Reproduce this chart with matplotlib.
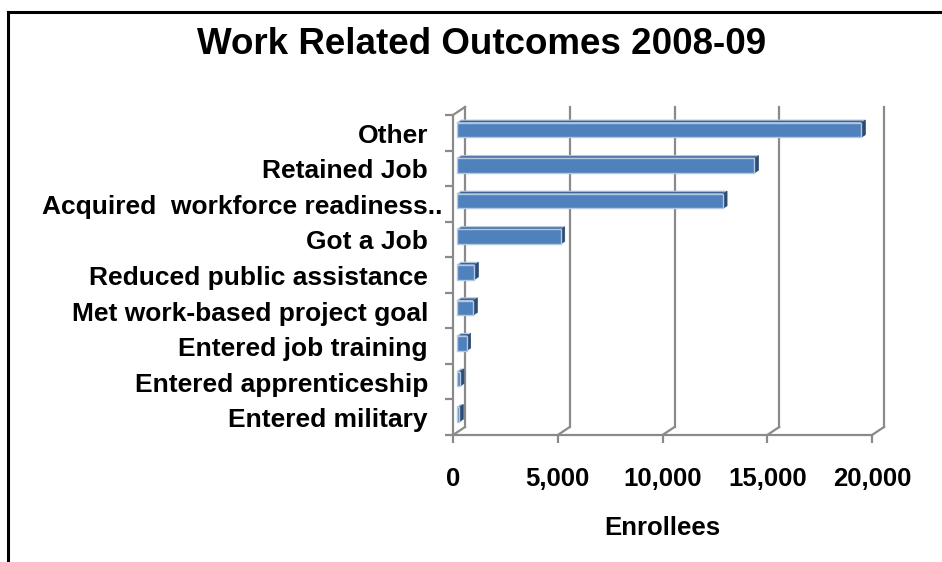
import matplotlib
matplotlib.use("Agg")
import matplotlib.pyplot as plt
from matplotlib.patches import Polygon
from matplotlib.lines import Line2D
from matplotlib.ticker import FuncFormatter, FixedLocator

# Work related outcomes, 2008-09 (number of enrollees)
categories = [
    "Other",
    "Retained Job",
    "Acquired  workforce readiness..",
    "Got a Job",
    "Reduced public assistance",
    "Met work-based project goal",
    "Entered job training",
    "Entered apprenticeship",
    "Entered military",
]
enrollees = [19300, 14200, 12700, 4950, 830, 780, 460, 140, 110]
x_ticks = [0, 5000, 10000, 15000, 20000]

title = "Work Related Outcomes 2008-09"
x_label = "Enrollees"

FONT = ["Liberation Sans", "DejaVu Sans"]
plt.rcParams["font.family"] = FONT

W, H, DPI = 942, 562, 100
fig = plt.figure(figsize=(W / DPI, H / DPI), dpi=DPI)
fig.patch.set_facecolor("white")

# front plane of the plot area, in pixels
ax_l, ax_r, ax_t, ax_b = 453, 872, 115, 435
ax = fig.add_axes([ax_l / W, 1 - ax_b / H, (ax_r - ax_l) / W, (ax_b - ax_t) / H])
ax.set_facecolor("none")

n = len(categories)
ax.set_xlim(x_ticks[0], x_ticks[-1])
ax.set_ylim(n - 0.5, -0.5)

grid_c = "#8a8a8a"
grid_lw = 1.6

# pixel -> data conversion for the pseudo-3D depth offsets
ux = (x_ticks[-1] - x_ticks[0]) / (ax_r - ax_l)
uy = n / (ax_b - ax_t)


def shift(x, y, dxp, dyp):
    return (x + dxp * ux, y - dyp * uy)


DEPTH = (12, 8)        # back wall
BAR_FRONT = (4, 2.7)   # front face of the bars
BAR_BACK = (8, 5.4)    # back face of the bars
half = 0.205

# back wall gridlines and floor diagonals
top, bot = -0.5, n - 0.5
for xv in x_ticks:
    p0 = shift(xv, top, *DEPTH)
    p1 = shift(xv, bot, *DEPTH)
    ax.add_line(Line2D([p0[0], p1[0]], [p0[1], p1[1]], color=grid_c, lw=grid_lw,
                       clip_on=False, zorder=1))
    ax.add_line(Line2D([xv, p1[0]], [bot, p1[1]], color=grid_c, lw=grid_lw,
                       clip_on=False, zorder=1))
# diagonal at top of the left wall
pt = shift(0, top, *DEPTH)
ax.add_line(Line2D([0, pt[0]], [top, pt[1]], color=grid_c, lw=grid_lw,
                   clip_on=False, zorder=1))

# bars
front_c = "#4f81bd"
top_c = "#3c6496"
side_c = "#2c4b73"
halo_c = "#b4c8e2"
for i, v in enumerate(enrollees):
    y0, y1 = i - half, i + half
    f00 = shift(0, y1, *BAR_FRONT)
    f10 = shift(v, y1, *BAR_FRONT)
    f11 = shift(v, y0, *BAR_FRONT)
    f01 = shift(0, y0, *BAR_FRONT)
    b10 = shift(v, y1, *BAR_BACK)
    b11 = shift(v, y0, *BAR_BACK)
    b01 = shift(0, y0, *BAR_BACK)
    # top face
    ax.add_patch(Polygon([f01, f11, b11, b01], closed=True, facecolor=top_c,
                         edgecolor=halo_c, lw=0.8, clip_on=False, zorder=3))
    # side face
    ax.add_patch(Polygon([f11, f10, b10, b11], closed=True, facecolor=side_c,
                         edgecolor=side_c, lw=0.5, clip_on=False, zorder=3))
    # front face
    ax.add_patch(Polygon([f00, f10, f11, f01], closed=True, facecolor=front_c,
                         edgecolor=halo_c, lw=1.0, clip_on=False, zorder=4))

# front axes: spines, ticks and labels
for s in ("top", "right"):
    ax.spines[s].set_visible(False)
for s in ("left", "bottom"):
    ax.spines[s].set_color(grid_c)
    ax.spines[s].set_linewidth(grid_lw)
    ax.spines[s].set_zorder(2)

ax.xaxis.set_major_locator(FixedLocator(x_ticks))
ax.xaxis.set_major_formatter(FuncFormatter(lambda v, p: f"{int(v):,}"))
ax.tick_params(axis="x", direction="out", length=6, width=grid_lw, color=grid_c,
               pad=17, labelsize=18.5)
for lab in ax.get_xticklabels():
    lab.set_fontweight("bold")

ax.yaxis.set_major_locator(FixedLocator([i - 0.5 for i in range(n + 1)]))
ax.yaxis.set_major_formatter(FuncFormatter(lambda v, p: ""))
ax.tick_params(axis="y", direction="out", length=6, width=grid_lw, color=grid_c)

for i, name in enumerate(categories):
    extra = 15 if name.endswith("..") else 0
    ax.annotate(name, xy=(0, i), xycoords=("axes fraction", "data"),
                xytext=(-25 + extra, -3), textcoords="offset pixels",
                ha="right", va="center", fontsize=19, fontweight="bold",
                color="black", annotation_clip=False)

ax.set_xlabel(x_label, fontsize=18.5, fontweight="bold", labelpad=18)

fig.text(482 / W, 1 - 45 / H, title, ha="center", va="center",
         fontsize=26.5, fontweight="bold", color="black")

# chart area border
fig.add_artist(Line2D([8 / W, 8 / W], [0, 1 - 12 / H], transform=fig.transFigure,
                      color="black", lw=2.2))
fig.add_artist(Line2D([8 / W, 1], [1 - 12 / H, 1 - 12 / H], transform=fig.transFigure,
                      color="black", lw=2.2))

fig.savefig("out.png", dpi=DPI, facecolor="white")
